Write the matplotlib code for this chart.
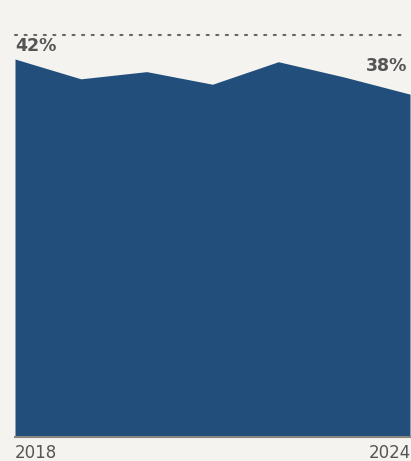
import numpy as np
import matplotlib.pyplot as plt

years = [2018, 2019, 2020, 2021, 2022, 2023, 2024]
share = [42.0, 39.8, 40.6, 39.2, 41.7, 40.0, 38.1]
top_ref = 44.7

bg = "#f4f3ef"
fill_col = "#224e7b"
txt_col = "#555555"

fig = plt.figure(figsize=(4.11, 4.61), dpi=100, facecolor=bg)
ax = fig.add_axes([15 / 411, (461 - 437.3) / 461, 395 / 411, (437.3 - 34.7) / 461])
ax.set_facecolor(bg)

ax.fill_between(years, share, 0, color=fill_col, linewidth=0)
ax.set_xlim(years[0], years[-1])
ax.set_ylim(0, top_ref)

# dotted reference line at top
ax.plot([years[0], years[-1] - 0.08], [top_ref, top_ref], color="#666666",
        linestyle=(0, (1, 3.6)), linewidth=1.5, dash_capstyle="round", clip_on=False)

# baseline
ax.axhline(0, color="#8a8680", linewidth=1.5, clip_on=False)

for s in ax.spines.values():
    s.set_visible(False)
ax.set_xticks([])
ax.set_yticks([])

# value labels
ax.annotate(f"{share[0]:.0f}%", xy=(years[0], share[0]), xytext=(0, 3),
            textcoords="offset points", ha="left", va="bottom",
            fontsize=12.5, fontweight="bold", color=txt_col)
ax.annotate(f"{share[-1]:.0f}%", xy=(years[-1], share[-1]), xytext=(-2, 14),
            textcoords="offset points", ha="right", va="bottom",
            fontsize=12.5, fontweight="bold", color=txt_col)

# year labels
ax.annotate(str(years[0]), xy=(years[0], 0), xytext=(0, -5),
            textcoords="offset points", ha="left", va="top",
            fontsize=12, color=txt_col)
ax.annotate(str(years[-1]), xy=(years[-1], 0), xytext=(0.5, -5),
            textcoords="offset points", ha="right", va="top",
            fontsize=12, color=txt_col, annotation_clip=False)

fig.savefig("out.png", dpi=100, facecolor=bg)
